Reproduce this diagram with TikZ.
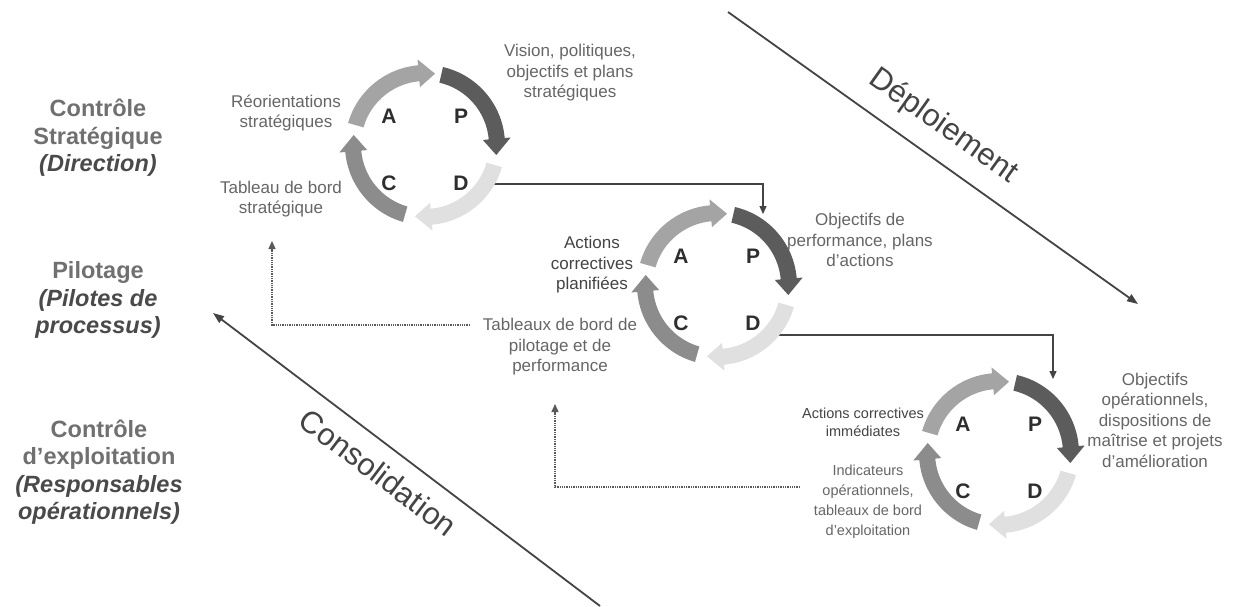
\documentclass[tikz,border=0pt]{standalone}
\usepackage{fontspec}
\setmainfont{Liberation Sans}
\usetikzlibrary{arrows.meta,calc}

\definecolor{segP}{HTML}{5C5C5C}
\definecolor{segD}{HTML}{E0E0E0}
\definecolor{segC}{HTML}{8C8C8C}
\definecolor{segA}{HTML}{A4A4A4}
\definecolor{ink}{HTML}{444444}
\definecolor{soft}{HTML}{666666}
\definecolor{lab}{HTML}{707070}
\definecolor{labdark}{HTML}{4A4A4A}

% one quarter of a PDCA wheel: start angle, tip angle, colour (runs clockwise)
\newcommand\pdcaseg[3]{%
  \pgfmathsetmacro\headstart{#2+13}%
  \fill[#3] (#1:80) arc[start angle=#1, end angle=\headstart, radius=80]
    -- (\headstart:86) -- (#2:72) -- (\headstart:58) -- (\headstart:64)
    arc[start angle=\headstart, end angle=#1, radius=64] -- cycle;}

% a full PDCA wheel with its letters: centre, name suffix
\newcommand\pdcawheel[2]{%
  \begin{scope}[shift={(#1)}, y=1pt]
    \pdcaseg{77}{-8}{segP}
    \pdcaseg{-16}{-98}{segD}
    \pdcaseg{-106}{-188}{segC}
    \pdcaseg{164}{82}{segA}
    \node[letter] (A#2) at (-36,29) {A};
    \node[letter] (P#2) at (36,29) {P};
    \node[letter] (C#2) at (-36,-38) {C};
    \node[letter] (D#2) at (36,-38) {D};
  \end{scope}}

\begin{document}
\begin{tikzpicture}[x=1pt, y=-1pt,
  small/.style={font=\fontsize{17}{20.5}\selectfont, text=soft, align=center, inner sep=0pt},
  smalldark/.style={small, text=ink},
  narrow/.style={small, font=\fontsize{14.5}{20}\selectfont},
  level/.style={font=\fontsize{23.5}{27.5}\selectfont\bfseries, text=lab, align=center, inner sep=0pt},
  letter/.style={font=\fontsize{21}{21}\selectfont\bfseries, text=black!82, inner sep=0pt},
  trend/.style={draw=ink, line width=1.8pt, -{Triangle[length=11pt,width=8pt]}},
  trendlabel/.style={font=\fontsize{31}{31}\selectfont, text=ink, inner sep=0pt, sloped},
  link/.style={draw=ink, line width=1.3pt, -{Triangle[length=8pt,width=7pt]}},
  feedback/.style={draw=black!65, line width=1.3pt, densely dotted, -{Triangle[length=8pt,width=7pt]}}]

\fill[white] (0,0) rectangle (1239,606);
\useasboundingbox (0,0) rectangle (1239,606);

% wheel centres
\coordinate (w1) at (425,145);
\coordinate (w2) at (717,285);
\coordinate (w3) at (999,453);

% deployment links between the wheels (drawn under them)
\coordinate (out1) at (492,184);
\coordinate (in2) at (763,214);
\coordinate (out2) at (778,335);
\coordinate (in3) at (1053,379);
\draw[link] (out1) -| (in2);
\draw[link] (out2) -| (in3);

\pdcawheel{w1}{1}
\pdcawheel{w2}{2}
\pdcawheel{w3}{3}

% level names
\node[level] (lv1) at (98,138) {Contrôle\\Stratégique\\{\color{labdark}\itshape (Direction)}};
\node[level] (lv2) at (98,300) {Pilotage\\{\color{labdark}\itshape (Pilotes de}\\{\color{labdark}\itshape processus)}};
\node[level] (lv3) at (99,472) {Contrôle\\d’exploitation\\{\color{labdark}\itshape (Responsables}\\{\color{labdark}\itshape opérationnels)}};

% wheel 1 labels
\node[small] (vis1) at (570,73) {Vision, politiques,\\objectifs et plans\\stratégiques};
\node[small] (reo1) at (286,113) {Réorientations\\stratégiques};
\node[small] (tb1) at (281,199) {Tableau de bord\\stratégique};

% wheel 2 labels
\node[small] (obj2) at (860,240) {Objectifs de\\performance, plans\\d’actions};
\node[smalldark] (act2) at (592,265) {Actions\\correctives\\planifiées};
\node[small] (tb2) at (560,347) {Tableaux de bord de\\pilotage et de\\performance};

% wheel 3 labels
\node[small] (obj3) at (1155,420) {Objectifs\\opérationnels,\\dispositions de\\maîtrise et projets\\d’amélioration};
\node[narrow, text=ink, font=\fontsize{14.5}{18}\selectfont] (act3) at (863,422) {Actions correctives\\immédiates};
\node[narrow] (ind3) at (868,502) {Indicateurs\\opérationnels,\\tableaux de bord\\d’exploitation};

% feedback of the dashboards
\coordinate (fb1s) at (470,325);
\coordinate (fb1e) at (272,241);
\coordinate (fb2s) at (800,487);
\coordinate (fb2e) at (555,404);
\draw[feedback] (fb1s) -| (fb1e);
\draw[feedback] (fb2s) -| (fb2e);

% deployment and consolidation trends
\coordinate (dep0) at (728,12);
\coordinate (dep1) at (1138,304);
\coordinate (con0) at (600,606);
\coordinate (con1) at (213,313);
\draw[trend] (dep0) -- node[trendlabel, pos=0.48, above=16pt] (deplab) {Déploiement} (dep1);
\draw[trend] (con0) -- node[trendlabel, pos=0.53, below=15pt] (conlab) {Consolidation} (con1);
\end{tikzpicture}
\end{document}
